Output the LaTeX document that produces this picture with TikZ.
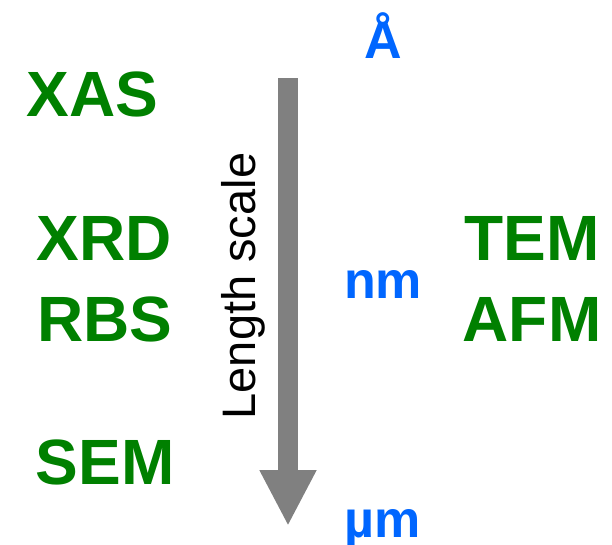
\documentclass[tikz,border=0pt]{standalone}
\usepackage{fontspec}
\setmainfont{Liberation Sans}
\usetikzlibrary{arrows.meta}
\definecolor{methodgreen}{RGB}{0,128,0}
\definecolor{scaleblue}{RGB}{0,102,255}
\definecolor{arrowgray}{RGB}{128,128,128}
\tikzset{
  method/.style={anchor=base, inner sep=0pt, text=methodgreen,
    font=\fontsize{64}{64}\selectfont\bfseries},
  unit/.style={anchor=base, inner sep=0pt, text=scaleblue,
    font=\fontsize{52}{52}\selectfont\bfseries},
  axislabel/.style={anchor=base, inner sep=0pt, rotate=90,
    font=\fontsize{47}{47}\selectfont},
  scalearrow/.style={draw=arrowgray, line width=20pt,
    -{Triangle[width=53pt, length=56pt, fill=arrowgray]}}
}
\begin{document}
\begin{tikzpicture}[x=1pt, y=-1pt]
  \useasboundingbox (0,0) rectangle (612,544);
  % techniques
  \node[method] (xas) at (92.5,116) {XAS};
  \node[method] (xrd) at (104,260) {XRD};
  \node[method] (rbs) at (105,341) {RBS};
  \node[method] (sem) at (105,484) {SEM};
  \node[method] (tem) at (532,260) {TEM};
  \node[method] (afm) at (532,341) {AFM};
  % units
  \node[unit] (ang) at (383,58) {Å};
  \node[unit] (nm) at (383,298) {nm};
  \node[unit] (um) at (383,537) {µm};
  % length scale axis
  \coordinate (top) at (288,78);
  \coordinate (tip) at (288,526);
  \draw[scalearrow] (top) -- (tip);
  \node[axislabel] (lbl) at (255,286) {Length scale};
\end{tikzpicture}
\end{document}
